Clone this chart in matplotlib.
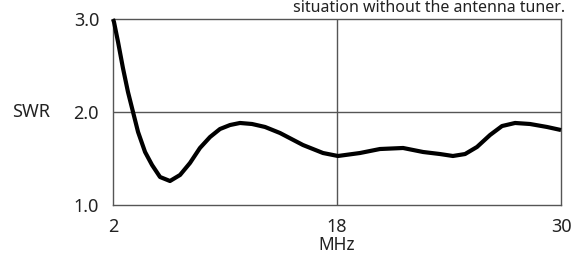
import numpy as np
import matplotlib
matplotlib.use('Agg')
import matplotlib.pyplot as plt

plt.rcParams['font.family'] = ['Noto Sans', 'DejaVu Sans']

# SWR curve
freq_mhz = [2.0, 2.07, 2.36, 2.71, 3.07, 3.43, 3.79, 4.29, 4.79, 5.36, 6.07,
            6.79, 7.5, 8.21, 8.93, 9.64, 10.36, 11.07, 11.93, 12.86, 13.93,
            15.57, 17.0, 18.05, 19.23, 20.3, 21.54, 22.61, 23.52, 24.21, 24.86,
            25.5, 26.2, 26.84, 27.54, 28.34, 29.25, 30.0]
swr = [3.0, 2.968, 2.753, 2.473, 2.215, 2.0, 1.785, 1.57, 1.43, 1.301, 1.258,
       1.323, 1.452, 1.613, 1.731, 1.817, 1.86, 1.882, 1.871, 1.839, 1.774,
       1.645, 1.559, 1.527, 1.559, 1.602, 1.613, 1.57, 1.548, 1.527, 1.548,
       1.624, 1.753, 1.849, 1.882, 1.871, 1.839, 1.806]

x_ticks = [2, 18, 30]
y_ticks = [1.0, 2.0, 3.0]
y_ticklabels = ['1.0', '2.0', '3.0']
caption = 'situation without the antenna tuner.'

# the frequency axis is not linear: 2-18 and 18-30 get the same width
def fwd(x):
    return np.interp(x, x_ticks, [0, 0.5, 1])

def inv(p):
    return np.interp(p, [0, 0.5, 1], x_ticks)

grey = '#555555'
txt = '#222222'

fig = plt.figure(figsize=(5.78, 2.56), dpi=100)
ax = fig.add_axes([113/578, 1-205/256, (561-113)/578, (205-19)/256])
ax.set_xscale('function', functions=(fwd, inv))

ax.plot(freq_mhz, swr, color='black', lw=3, solid_joinstyle='round',
        solid_capstyle='butt', clip_on=False, zorder=3)

ax.set_xlim(2, 30)
ax.set_ylim(1.0, 3.0)
ax.axhline(2.0, color=grey, lw=1)
ax.axvline(18, color=grey, lw=1)
for s in ax.spines.values():
    s.set_color(grey)
    s.set_linewidth(1)

ax.set_xticks(x_ticks)
ax.set_xticklabels([str(v) for v in x_ticks], fontsize=13, color=txt)
ax.set_yticks(y_ticks)
ax.set_yticklabels(y_ticklabels, fontsize=13, color=txt)
ax.tick_params(axis='both', length=0)
ax.tick_params(axis='x', pad=9)
ax.tick_params(axis='y', pad=10)

ax.set_xlabel('MHz', fontsize=12.5, color=txt, labelpad=0.5)
fig.text(12/578, 1-112/256, 'SWR', fontsize=13, color=txt, ha='left', va='center')
fig.text(565/578, 1-12/256, caption, fontsize=11.5, color=txt, ha='right', va='baseline')

fig.savefig('out.png', dpi=100)
